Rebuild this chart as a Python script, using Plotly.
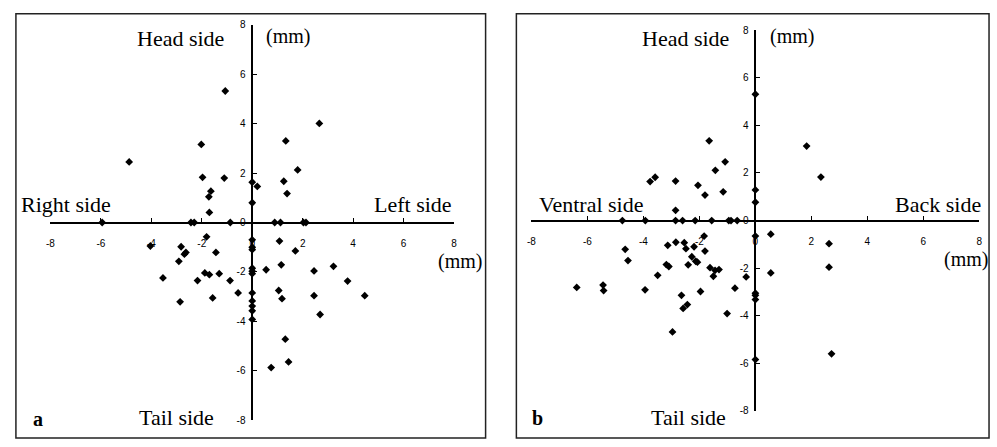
import plotly.graph_objects as go

# ---------------- data (mm) ----------------
# Panel a : Right side (-) / Left side (+), Tail side (-) / Head side (+)
a_x = [-1.07, -2.02, -4.88, -1.97, -1.11, -1.64, -1.72, -1.70,
       0.0, 0.0, 0.20,
       2.66, 1.33, 1.80, 1.25, 1.38,
       -5.95, -2.43, -2.30, -0.87, 0.89, 1.12, 2.03, 2.13,
       -4.04, -2.82, -2.63, -2.69, -1.44, -2.91, -3.54, -2.17, -1.88, -1.70,
       -1.31, -0.88, -0.56, -2.86, -1.57, -1.81,
       1.08, 1.71, 0.55, 1.15, 2.45, 3.22, 3.78, 1.05, 1.18, 2.45, 4.46,
       2.69, 1.31, 1.44, 0.75,
       0.0, 0.0, 0.0, 0.0, 0.0, 0.0, 0.0, 0.0, 0.0, 0.0, 0.0]
a_y = [5.32, 3.16, 2.45, 1.83, 1.80, 1.27, 1.04, 0.41,
       1.63, 0.80, 1.46,
       4.01, 3.30, 2.13, 1.67, 1.17,
       0.0, 0.0, 0.0, 0.0, 0.0, 0.0, 0.0, 0.0,
       -0.95, -0.98, -1.21, -1.28, -1.21, -1.57, -2.24, -2.35, -2.04, -2.11,
       -2.07, -2.35, -2.85, -3.21, -3.05, -0.58,
       -0.75, -1.15, -1.91, -1.71, -1.96, -1.77, -2.37, -2.75, -3.08, -2.96, -2.96,
       -3.72, -4.72, -5.64, -5.87,
       -0.70, -1.00, -1.10, -1.85, -1.97, -2.07, -2.85, -3.17, -3.38, -3.57, -3.92]

# Panel b : Ventral side (-) / Back side (+), Tail side (-) / Head side (+)
b_x = [-1.65, -1.08, -1.43, -3.58, -3.76, -2.85, -2.05, -1.15, -1.80, -2.85,
       0.0, 0.0, 0.0,
       1.83, 2.34,
       -4.75, -3.93, -2.85, -2.60, -2.15, -1.56, -0.95, -0.87, -0.65,
       0.55, 0.55, 2.63, 2.63, 2.72, 0.0, 0.0, 0.0, 0.0, 0.0,
       -6.38, -5.44, -5.42, -4.65, -4.55, -3.94, -3.49, -3.13, -2.84, -2.54,
       -2.48, -2.19, -1.80, -2.27, -3.18, -3.09, -2.40, -2.13, -2.07, -1.62,
       -1.44, -1.30, -1.50, -1.96, -2.64, -2.43, -2.58, -0.73, -1.01, -2.96,
       -0.33, -1.83]
b_y = [3.35, 2.47, 2.11, 1.82, 1.64, 1.66, 1.48, 1.21, 1.07, 0.43,
       5.31, 1.29, 0.77,
       3.13, 1.83,
       0.0, 0.0, 0.0, 0.0, 0.0, 0.0, 0.0, 0.0, 0.0,
       -0.57, -2.20, -0.97, -1.96, -5.60, -5.84, -3.05, -3.14, -3.32, -0.65,
       -2.81, -2.71, -2.94, -1.21, -1.68, -2.91, -2.30, -1.04, -0.91, -0.93,
       -1.18, -1.10, -1.28, -1.52, -1.85, -1.93, -1.86, -1.71, -1.75, -1.98,
       -2.09, -2.06, -2.34, -2.98, -3.14, -3.53, -3.69, -2.84, -3.91, -4.68,
       -2.37, -0.65]

tick_vals = [-8, -6, -4, -2, 0, 2, 4, 6, 8]
tick_text = ["-8", "-6", "-4", "-2", "0", "2", "4", "6", "8"]

# ---------------- layout helpers ----------------
W, H = 997, 447


def px(x):
    return x / W


def py(y):
    return 1 - y / H


fig = go.Figure()
marker = dict(symbol="diamond", size=6, color="black", line=dict(width=0))
fig.add_trace(go.Scatter(x=a_x, y=a_y, mode="markers", marker=marker,
                         xaxis="x", yaxis="y", showlegend=False))
fig.add_trace(go.Scatter(x=b_x, y=b_y, mode="markers", marker=marker,
                         xaxis="x2", yaxis="y2", showlegend=False))

tick_font = dict(family="Liberation Sans", size=10, color="black")


def xax(domain, pos):
    return dict(domain=domain, range=[-8, 8], anchor="free", position=pos,
                showline=True, linecolor="black", linewidth=1.5,
                ticks="inside", ticklen=4, tickcolor="black", tickwidth=1,
                tickvals=tick_vals, ticktext=tick_text, tickfont=tick_font,
                ticklabelstandoff=12, showgrid=False, zeroline=False,
                fixedrange=True)


def yax(domain, pos):
    return dict(domain=domain, range=[-8, 8], anchor="free", position=pos,
                showline=True, linecolor="black", linewidth=1.5,
                ticks="inside", ticklen=4, tickcolor="black", tickwidth=1,
                tickvals=tick_vals, ticktext=tick_text, tickfont=tick_font,
                ticklabelstandoff=4, showgrid=False, zeroline=False,
                fixedrange=True)


serif = "Liberation Serif"


def ann(text, x, y, xanchor, size=22, bold=False):
    t = f"<b>{text}</b>" if bold else text
    return dict(text=t, x=px(x), y=py(y), xref="paper", yref="paper",
                xanchor=xanchor, yanchor="middle", showarrow=False,
                borderpad=0,
                font=dict(family=serif, size=size, color="black"))


annotations = [
    ann("Head side", 223, 33, "right"),
    ann("(mm)", 263, 31, "left", size=20),
    ann("Right side", 16, 204, "left"),
    ann("Left side", 452, 204, "right"),
    ann("(mm)", 482, 263, "right", size=20),
    ann("Tail side", 212, 423, "right"),
    ann("a", 28, 424, "left", size=20, bold=True),
    ann("Head side", 731, 33, "right"),
    ann("(mm)", 770, 31, "left", size=20),
    ann("Ventral side", 538, 204, "left"),
    ann("Back side", 985, 204, "right"),
    ann("(mm)", 992, 260, "right", size=20),
    ann("Tail side", 728, 423, "right"),
    ann("b", 531, 423, "left", size=20, bold=True),
]

shapes = [
    dict(type="rect", xref="paper", yref="paper", x0=px(12), x1=px(485),
         y0=py(444), y1=py(8), line=dict(color="#222", width=1.5)),
    dict(type="rect", xref="paper", yref="paper", x0=px(516), x1=px(992),
         y0=py(444), y1=py(8), line=dict(color="#222", width=1.5)),
]

fig.update_layout(
    width=W, height=H, autosize=False,
    margin=dict(l=0, r=0, t=0, b=0),
    paper_bgcolor="white", plot_bgcolor="rgba(0,0,0,0)",
    xaxis=xax([px(46.8), px(453.2)], py(222.5)),
    yaxis=yax([py(425.7), py(19.3)], px(250)),
    xaxis2=xax([px(531.1), px(982.3)], py(220.5)),
    yaxis2=yax([py(416.1), py(24.9)], px(756.7)),
    annotations=annotations,
    shapes=shapes,
)

fig.write_html(
    "out.html",
    config={"displayModeBar": False},
    post_script="document.body.style.margin='0';"
                "document.body.style.overflow='hidden';",
)
